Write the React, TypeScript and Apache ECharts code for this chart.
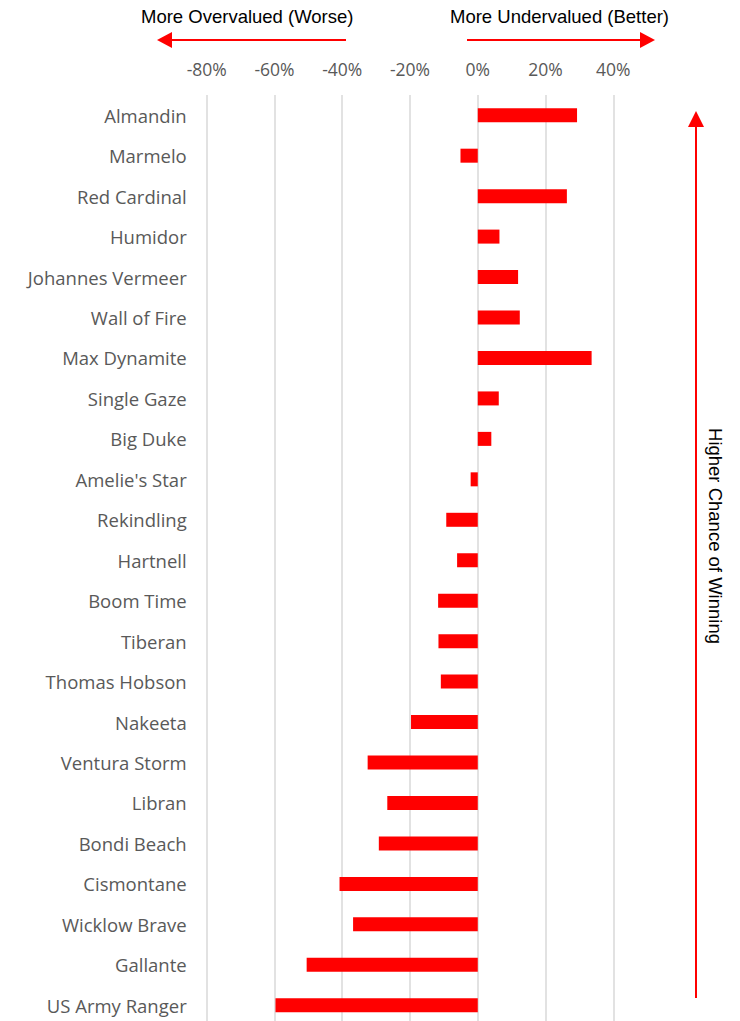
import React, { useEffect, useRef } from "react";
import * as echarts from "echarts";

const categories = [
  "Almandin", "Marmelo", "Red Cardinal", "Humidor", "Johannes Vermeer", "Wall of Fire",
  "Max Dynamite", "Single Gaze", "Big Duke", "Amelie's Star", "Rekindling", "Hartnell",
  "Boom Time", "Tiberan", "Thomas Hobson", "Nakeeta", "Ventura Storm", "Libran",
  "Bondi Beach", "Cismontane", "Wicklow Brave", "Gallante", "US Army Ranger",
];
const values = [
  29.3, -5.1, 26.3, 6.4, 11.9, 12.4,
  33.6, 6.2, 4.0, -2.1, -9.3, -6.1,
  -11.7, -11.6, -10.9, -19.7, -32.5, -26.7,
  -29.2, -40.8, -36.8, -50.5, -59.7,
];
const xMin = -80;
const xMax = 40;
const xStep = 20;

export default function App() {
  const ref = useRef<HTMLDivElement>(null);
  useEffect(() => {
    if (!ref.current) return;
    const chart = echarts.init(ref.current, undefined, { renderer: "svg" });
    const red = "#FF0000";
    const headFont = { fontSize: 18.5, fontFamily: "Liberation Sans", fill: "#000" };
    chart.setOption({
      animation: false,
      backgroundColor: "#fff",
      grid: { left: 206.7, right: 126.7, top: 95, bottom: 4.5, containLabel: false },
      xAxis: {
        type: "value",
        position: "top",
        min: xMin,
        max: xMax,
        interval: xStep,
        axisLine: { show: false },
        axisTick: { show: false },
        axisLabel: {
          formatter: (v: number) => `${v}%`,
          color: "#595959",
          fontSize: 17.5,
          fontFamily: "Open Sans",
          margin: 17,
        },
        splitLine: { show: true, lineStyle: { color: "#D9D9D9", width: 1.5 } },
      },
      yAxis: {
        type: "category",
        data: categories,
        inverse: true,
        axisLine: { show: false },
        axisTick: { show: false },
        axisLabel: { color: "#595959", fontSize: 18.5, fontFamily: "Open Sans", margin: 20 },
      },
      series: [
        {
          type: "bar",
          data: values,
          barWidth: 14,
          itemStyle: { color: red },
        },
      ],
      graphic: [
        { type: "text", left: 141, top: 7, style: { text: "More Overvalued (Worse)", ...headFont } },
        { type: "text", left: 450, top: 7, style: { text: "More Undervalued (Better)", ...headFont } },
        { type: "line", shape: { x1: 346, y1: 40, x2: 170, y2: 40 }, style: { stroke: red, lineWidth: 2 } },
        { type: "polygon", shape: { points: [[157, 40], [172, 32], [172, 48]] }, style: { fill: red } },
        { type: "line", shape: { x1: 467, y1: 40, x2: 642, y2: 40 }, style: { stroke: red, lineWidth: 2 } },
        { type: "polygon", shape: { points: [[655, 40], [640, 32], [640, 48]] }, style: { fill: red } },
        { type: "line", shape: { x1: 696, y1: 125, x2: 696, y2: 998 }, style: { stroke: red, lineWidth: 2 } },
        { type: "polygon", shape: { points: [[696, 111], [688, 127], [704, 127]] }, style: { fill: red } },
        {
          type: "text",
          x: 715,
          y: 536,
          rotation: -Math.PI / 2,
          style: {
            text: "Higher Chance of Winning",
            ...headFont,
            align: "center",
            verticalAlign: "middle",
          },
        },
      ],
    });
    return () => chart.dispose();
  }, []);
  return (
    <div
      ref={ref}
      style={{ position: "fixed", left: 0, top: 0, width: 740, height: 1030, background: "#fff" }}
    />
  );
}
